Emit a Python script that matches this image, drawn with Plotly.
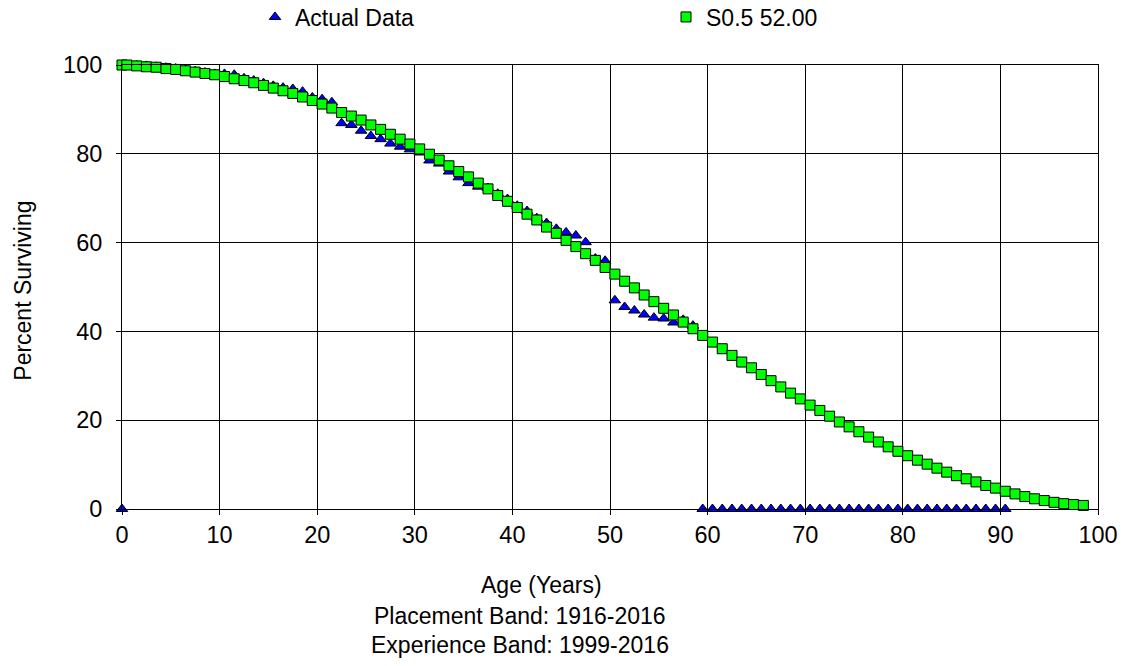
import plotly.graph_objects as go

# ---- data ----
actual_age = [0] + [i + 0.5 for i in range(0, 91)]
actual_pct = [0.0,
    100.0, 99.9, 99.8, 99.6, 99.4, 99.2, 98.9, 98.6, 98.3, 98.0,
    98.0, 97.8, 97.0, 96.5, 95.9, 95.3, 94.9, 94.6, 94.0, 92.7,
    92.3, 91.6, 86.9, 86.5, 85.2, 84.0, 83.3, 82.3, 81.6, 81.0,
    80.3, 78.5, 77.8, 76.0, 74.7, 73.4, 72.6, 72.3, 71.0, 69.8,
    68.3, 67.1, 65.5, 64.4, 63.1, 62.3, 61.6, 60.1, 56.4, 55.9,
    47.0, 45.5, 44.7, 43.8, 43.1, 42.9, 42.0, 42.6, 41.3] + [0.0] * 32

curve_age = [0] + [i + 0.5 for i in range(0, 99)]
curve_pct = [100.0,
    100.0, 99.8, 99.6, 99.5, 99.2, 99.0, 98.7, 98.4, 98.1, 97.8,
    97.4, 96.9, 96.5, 96.0, 95.4, 94.8, 94.2, 93.6, 92.8, 92.0,
    91.2, 90.3, 89.3, 88.5, 87.6, 86.5, 85.5, 84.4, 83.3, 82.2,
    81.1, 79.9, 78.6, 77.3, 76.0, 74.8, 73.4, 72.1, 70.6, 69.3,
    67.9, 66.4, 65.1, 63.5, 62.1, 60.5, 59.1, 57.5, 56.0, 54.4,
    52.9, 51.3, 49.8, 48.2, 46.7, 45.2, 43.7, 42.1, 40.6, 39.1,
    37.6, 36.1, 34.6, 33.1, 31.8, 30.3, 28.9, 27.5, 26.1, 24.8,
    23.4, 22.2, 20.9, 19.6, 18.5, 17.4, 16.2, 15.1, 14.0, 13.0,
    12.0, 11.0, 10.1, 9.2, 8.3, 7.5, 6.8, 6.1, 5.3, 4.7,
    4.0, 3.4, 2.8, 2.3, 1.9, 1.5, 1.2, 1.0, 0.8]

x_ticks = [0, 10, 20, 30, 40, 50, 60, 70, 80, 90, 100]
y_ticks = [0, 20, 40, 60, 80, 100]

series_names = ["Actual Data", "S0.5 52.00"]
x_title = "Age (Years)"
sub_titles = ["Placement Band: 1916-2016", "Experience Band: 1999-2016"]
y_title = "Percent Surviving"

FONT = "Liberation Sans, Arial, sans-serif"
FS = 23
TFS = 23.5

fig = go.Figure()
fig.add_trace(go.Scatter(
    x=actual_age, y=actual_pct, mode="markers", name=series_names[0],
    marker=dict(symbol="triangle-up", size=10, color="#0000FF",
                line=dict(color="#000000", width=1)),
    cliponaxis=False, legend="legend"))
fig.add_trace(go.Scatter(
    x=curve_age, y=curve_pct, mode="markers", name=series_names[1],
    marker=dict(symbol="square", size=10, color="#00FF00",
                line=dict(color="#000000", width=1)),
    cliponaxis=False, legend="legend2"))

W, H = 1130, 666
L, R, T, B = 122, 25, 65, 157
plot_w = W - L - R
plot_h = H - T - B

def px_x(p):
    return (p - L) / plot_w

def px_y(p):
    return (H - B - p) / plot_h

ann = [
    dict(text=x_title, x=px_x(545), y=px_y(585)),
    dict(text=sub_titles[0], x=px_x(523), y=px_y(616)),
    dict(text=sub_titles[1], x=px_x(523), y=px_y(645)),
]
annotations = [dict(xref="paper", yref="paper", showarrow=False,
                    xanchor="center", yanchor="middle",
                    font=dict(family=FONT, size=FS, color="#000000"), **a)
               for a in ann]
annotations.append(dict(xref="paper", yref="paper", showarrow=False,
                        text=y_title, textangle=-90,
                        x=px_x(22), y=px_y(291), xanchor="center", yanchor="middle",
                        font=dict(family=FONT, size=FS, color="#000000")))

fig.update_layout(
    width=W, height=H,
    margin=dict(l=L, r=R, t=T, b=B),
    paper_bgcolor="#FFFFFF", plot_bgcolor="#FFFFFF",
    font=dict(family=FONT, size=FS, color="#000000"),
    showlegend=True,
    legend=dict(xref="container", yref="container", x=(277 - 22) / W, y=1 - 17 / H,
                xanchor="left", yanchor="middle", orientation="h",
                bgcolor="rgba(0,0,0,0)", font=dict(family=FONT, size=FS)),
    legend2=dict(xref="container", yref="container", x=(688 - 22) / W, y=1 - 17 / H,
                 xanchor="left", yanchor="middle", orientation="h",
                 bgcolor="rgba(0,0,0,0)", font=dict(family=FONT, size=FS)),
    annotations=annotations,
    xaxis=dict(range=[0, 100], tickvals=x_ticks, ticktext=[str(v) for v in x_ticks],
               showgrid=True, gridcolor="#000000", gridwidth=1,
               showline=True, linecolor="#000000", linewidth=1, mirror=True,
               ticks="outside", ticklen=5, tickcolor="#000000", zeroline=False,
               tickfont=dict(family=FONT, size=TFS)),
    yaxis=dict(range=[0, 100], tickvals=y_ticks, ticktext=[str(v) for v in y_ticks],
               showgrid=True, gridcolor="#000000", gridwidth=1,
               showline=True, linecolor="#000000", linewidth=1, mirror=True,
               ticks="outside", ticklen=5, tickcolor="#000000", zeroline=False,
               ticklabelstandoff=9,
               tickfont=dict(family=FONT, size=TFS)),
)

fig.write_html("out.html")
